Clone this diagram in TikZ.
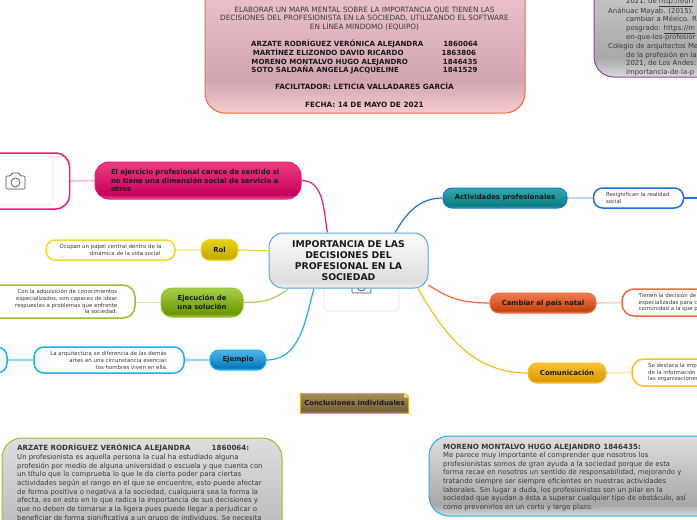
\documentclass[tikz,border=0pt]{standalone}
\usepackage{fontspec}
\setmainfont{DejaVu Sans}
\usetikzlibrary{calc}
\definecolor{InkDark}{HTML}{1A1A1A}
\definecolor{InkGrey}{HTML}{3A3A3A}
\definecolor{PinkEdge}{HTML}{F0187A}
\definecolor{YellowEdge}{HTML}{F0DA28}
\definecolor{GreenEdge}{HTML}{98C030}
\definecolor{SkyEdge}{HTML}{1CB0F0}
\definecolor{BlueEdge}{HTML}{1E6FE0}
\definecolor{CoralEdge}{HTML}{F5683C}
\definecolor{AmberEdge}{HTML}{FFBC20}
\definecolor{PurpleEdge}{HTML}{8E44A8}
\definecolor{CentralEdge}{HTML}{5AA8DC}
\definecolor{gTitleA}{HTML}{F0C6D0}\definecolor{gTitleB}{HTML}{D2A6B0}\definecolor{gTitleC}{HTML}{F6CACC}
\definecolor{gGreyA}{HTML}{DEDEDE}\definecolor{gGreyB}{HTML}{A8A8A8}\definecolor{gGreyC}{HTML}{DADADA}
\definecolor{gPinkA}{HTML}{EE3C80}\definecolor{gPinkB}{HTML}{C8005C}\definecolor{gPinkC}{HTML}{E85090}
\definecolor{gRolA}{HTML}{E8D418}\definecolor{gRolB}{HTML}{C4AC00}\definecolor{gRolC}{HTML}{E8D850}
\definecolor{gGreenA}{HTML}{A6D048}\definecolor{gGreenB}{HTML}{6A9800}\definecolor{gGreenC}{HTML}{A0C850}
\definecolor{gSkyA}{HTML}{4CB8F0}\definecolor{gSkyB}{HTML}{0878B8}\definecolor{gSkyC}{HTML}{50B8E8}
\definecolor{gTealA}{HTML}{30ACAE}\definecolor{gTealB}{HTML}{0A7C7E}\definecolor{gTealC}{HTML}{40A8A8}
\definecolor{gCoralA}{HTML}{F27C50}\definecolor{gCoralB}{HTML}{C44210}\definecolor{gCoralC}{HTML}{EE8058}
\definecolor{gAmberA}{HTML}{F6C436}\definecolor{gAmberB}{HTML}{DA9800}\definecolor{gAmberC}{HTML}{F4C850}
\definecolor{gBrownA}{HTML}{A48E64}\definecolor{gBrownB}{HTML}{766238}\definecolor{gBrownC}{HTML}{A89470}
\definecolor{gWhiteA}{HTML}{FCFCFC}\definecolor{gWhiteB}{HTML}{DEDEDE}\definecolor{gWhiteC}{HTML}{F0F0F0}
% gloss: name, top, dark band, bottom rim, band position
\newcommand{\glossdef}[5]{\pgfdeclareverticalshading{#1}{100bp}{color(0bp)=(#4); color(25bp)=(#4); color(#5bp)=(#3); color(75bp)=(#2); color(100bp)=(#2)}}
\glossdef{glosstitle}{gTitleA}{gTitleB}{gTitleC}{37}
\glossdef{glossgrey}{gGreyA}{gGreyB}{gGreyC}{32}
\glossdef{glosspink}{gPinkA}{gPinkB}{gPinkC}{31}
\glossdef{glossrol}{gRolA}{gRolB}{gRolC}{31}
\glossdef{glossgreen}{gGreenA}{gGreenB}{gGreenC}{31}
\glossdef{glosssky}{gSkyA}{gSkyB}{gSkyC}{31}
\glossdef{glossteal}{gTealA}{gTealB}{gTealC}{31}
\glossdef{glosscoral}{gCoralA}{gCoralB}{gCoralC}{31}
\glossdef{glossamber}{gAmberA}{gAmberB}{gAmberC}{31}
\glossdef{glossbrown}{gBrownA}{gBrownB}{gBrownC}{31}
\glossdef{glosswhite}{gWhiteA}{gWhiteB}{gWhiteC}{31}
\newcommand{\namerow}[1]{{\fontsize{7.1}{8.65}\selectfont\bfseries #1}}
\newcommand{\panelhead}[1]{{\fontsize{7.15}{8.65}\selectfont\bfseries #1}}
\pgfdeclarelayer{behind}
\pgfsetlayers{behind,main}
\tikzset{
  topicbox/.style={rounded corners=9pt, line width=1pt, inner sep=0pt, align=center, text=InkDark, font=\fontsize{6.9}{8.8}\selectfont\bfseries},
  notebox/.style={rounded corners=9pt, line width=1.5pt, fill=white, inner sep=0pt, text=InkGrey, font=\fontsize{5.45}{6.9}\selectfont},
  panelbox/.style={rounded corners=20pt, line width=1pt},
  panelfont/.style={inner sep=0pt, align=left, text=InkGrey, font=\fontsize{6.9}{8.65}\selectfont},
  photobox/.style={rounded corners=4pt, draw=black!10, line width=.7pt, fill=white},
  mainlink/.style={line width=1.2pt},
  sublink/.style={line width=1.6pt},
  cameraicon/.pic={
    \draw[black!70, line width=.7pt, rounded corners=1pt] (-9.5,-5) -- (-5,-5) -- (-3.5,-8) -- (3.5,-8) -- (5,-5) -- (9.5,-5) -- (9.5,8) -- (-9.5,8) -- cycle;
    \draw[black!70, line width=.7pt] (0,1.5) circle (4.5);
  }
}
\begin{document}
\begin{tikzpicture}[x=1pt, y=-1pt]
\useasboundingbox (0,0) rectangle (697,520);

% Title
\node[panelbox, draw=CoralEdge, shading=glosstitle, minimum width=320, minimum height=138] (titlebox) at (365,44) {};
\node[inner sep=0pt, align=center, text=InkDark, font=\fontsize{7.28}{8.65}\selectfont] (titletext) at (364.5,57) {\textcolor{InkGrey}{ELABORAR UN MAPA MENTAL SOBRE LA IMPORTANCIA QUE TIENEN LAS}\\
\textcolor{InkGrey}{DECISIONES DEL PROFESIONISTA EN LA SOCIEDAD, UTILIZANDO EL SOFTWARE}\\
\textcolor{InkGrey}{EN LÍNEA MINDOMO (EQUIPO)}\\[8.5pt]
\namerow{ARZATE RODRÍGUEZ VERÓNICA ALEJANDRA\hspace{20pt}1860064}\\
\namerow{MARTÍNEZ ELIZONDO DAVID RICARDO\hspace{38pt}1863806}\\
\namerow{MORENO MONTALVO HUGO ALEJANDRO\hspace{35pt}1846435}\\
\namerow{SOTO SALDAÑA ANGELA JACQUELINE\hspace{44pt}1841529}\\[8.5pt]
\textbf{FACILITADOR: LETICIA VALLADARES GARCÍA}\\[8.5pt]
\textbf{FECHA: 14 DE MAYO DE 2021}};

% References, top right
\node[panelbox, draw=PurpleEdge, shading=glossgrey, minimum width=200, minimum height=137] (refbox) at (694,8.5) {};
\node[panelfont, anchor=north west] (reftext) at (608,-2.4) {\hspace*{18pt}2021, de \underline{http://eurl}\\
Anáhuac Mayab. (2015).\\
\hspace*{18pt}cambiar a México. R\\
\hspace*{18pt}posgrado: \underline{https://m}\\
\hspace*{18pt}en-que-los-profesior\\
Colegio de arquitectos Me\\
\hspace*{18pt}de la profesión en la\\
\hspace*{18pt}2021, de Los Andes:\\
\hspace*{18pt}importancia-de-la-p};

% Central topic
\node[photobox, minimum width=75, minimum height=60] (centralphoto) at (361.5,281) {};
\pic at (361.5,285) {cameraicon};
\node[rounded corners=14pt, line width=1pt, draw=CentralEdge, shading=glosswhite, minimum width=159, minimum height=55, inner sep=0pt, align=center, text=InkDark, font=\fontsize{9.3}{11}\selectfont\bfseries] (central) at (348.5,260.5) {IMPORTANCIA DE LAS\\DECISIONES DEL\\PROFESIONAL EN LA\\SOCIEDAD};

% Left branches
\node[topicbox, draw=PinkEdge, shading=glosspink, rounded corners=14pt, minimum width=206, minimum height=37, text width=174, align=left] (pinktopic) at (198,180.5) {El ejercicio profesional carece de sentido si\\no tiene una dimensión social de servicio a\\otros};
\node[notebox, draw=PinkEdge, rounded corners=14pt, minimum width=110, minimum height=56] (pinkimage) at (14.5,181) {};
\node[photobox, minimum width=100, minimum height=49] (pinkphoto) at (3,180.5) {};
\pic at (15.5,181) {cameraicon};

\node[topicbox, draw=YellowEdge, shading=glossrol, minimum width=37, minimum height=21] (roltopic) at (219.5,250) {Rol};
\node[notebox, draw=YellowEdge, minimum width=129, minimum height=20, align=right] (rolnote) at (110.5,250) {Ocupan un papel central dentro de la\\dinámica de la vida social\hspace*{1pt}};

\node[topicbox, draw=GreenEdge, shading=glossgreen, rounded corners=11pt, minimum width=82, minimum height=29] (solutiontopic) at (202,302.5) {Ejecución de\\una solución};
\node[notebox, draw=GreenEdge, rounded corners=12pt, minimum width=175, minimum height=33] (solutionnote) at (47.5,301.5) {};
\node[inner sep=0pt, align=right, text=InkGrey, font=\fontsize{5.45}{6.9}\selectfont, anchor=east] (solutiontext) at (117.5,301.5) {Con la adquisición de conocimientos\\especializados, son capaces de idear\\respuestas a problemas que enfrente\hspace*{2pt}\\la sociedad.};

\node[topicbox, draw=SkyEdge, shading=glosssky, minimum width=56, minimum height=20] (exampletopic) at (238,360) {Ejemplo};
\node[notebox, draw=SkyEdge, rounded corners=10pt, minimum width=150, minimum height=26, align=right] (examplenote) at (109,360) {La arquitectura se diferencia de las demás\hspace*{1pt}\\artes en una circunstancia esencial:\hspace*{1pt}\\los hombres viven en ella.};
\node[notebox, draw=SkyEdge, rounded corners=10pt, minimum width=80, minimum height=26] (exampleimage) at (-33,360) {};

% Right branches
\node[topicbox, draw=BlueEdge, shading=glossteal, minimum width=124, minimum height=20] (activitytopic) at (505,198) {Actividades profesionales};
\node[notebox, draw=BlueEdge, minimum width=90, minimum height=20, text width=65, align=left] (activitynote) at (638.5,198) {Resignifican la realidad\\social};
\coordinate (activityend) at (697,198);

\node[topicbox, draw=CoralEdge, shading=glosscoral, minimum width=106, minimum height=20] (returntopic) at (543,303) {Cambiar al país natal};
\node[notebox, draw=CoralEdge, rounded corners=12pt, minimum width=150, minimum height=27] (returnnote) at (697,302.5) {};
\node[inner sep=0pt, align=left, text=InkGrey, font=\fontsize{5.45}{6.6}\selectfont, anchor=west] (returntext) at (638.5,302.5) {Tienen la decisión de\\especializadas para c\\comunidad a la que p};

\node[topicbox, draw=AmberEdge, shading=glossamber, minimum width=78, minimum height=20] (speechtopic) at (567,373) {Comunicación};
\node[notebox, draw=AmberEdge, rounded corners=12pt, minimum width=150, minimum height=27] (speechnote) at (707,372.5) {};
\node[inner sep=0pt, align=left, text=InkGrey, font=\fontsize{5.45}{6.6}\selectfont, anchor=west] (speechtext) at (648,372.5) {Se destaca la imp\\de la información\\las organizaciones};

% Individual conclusions
\node[draw=AmberEdge!90!black, line width=1pt, shading=glossbrown, minimum width=108, minimum height=20, inner sep=0pt, text=InkDark, font=\fontsize{6.9}{9}\selectfont\bfseries] (conclusions) at (354.5,403) {Conclusiones individuales};
\fill[white] ($(conclusions.north east)+(-5,-1)$) -- ($(conclusions.north east)+(1,-1)$) -- ($(conclusions.north east)+(1,5)$) -- cycle;
\fill[AmberEdge!60] ($(conclusions.north east)+(-5,0)$) -- ($(conclusions.north east)+(-5,5)$) -- ($(conclusions.north east)+(0,5)$) -- cycle;

\node[panelbox, draw=GreenEdge, shading=glossgrey, minimum width=280, minimum height=160] (arzatebox) at (142,518) {};
\node[panelfont, anchor=north west] (arzatetext) at (17,444) {\panelhead{ARZATE RODRÍGUEZ VERÓNICA ALEJANDRA\hspace{21pt}1860064:}\\
Un profesionista es aquella persona la cual ha estudiado alguna\\
profesión por medio de alguna universidad o escuela y que cuenta con\\
un título que lo comprueba lo que le da cierto poder para ciertas\\
actividades según el rango en el que se encuentre, esto puede afectar\\
de forma positiva o negativa a la sociedad, cualquiera sea la forma la\\
afecta, es en esto en lo que radica la importancia de sus decisiones y\\
que no deben de tomarse a la ligera pues puede llegar a perjudicar o\\
beneficiar de forma significativa a un grupo de individuos. Se necesita};

\node[panelbox, draw=SkyEdge, shading=glossgrey, minimum width=300, minimum height=80] (morenobox) at (579,476) {};
\node[panelfont, anchor=north west] (morenotext) at (443,443.5) {\panelhead{MORENO MONTALVO HUGO ALEJANDRO 1846435:}\\
Me parece muy importante el comprender que nosotros los\\
profesionistas somos de gran ayuda a la sociedad porque de esta\\
forma recae en nosotros un sentido de responsabilidad, mejorando y\\
tratando siempre ser siempre eficientes en nuestras actividades\\
laborales. Sin lugar a duda, los profesionistas son un pilar en la\\
sociedad que ayudan a ésta a superar cualquier tipo de obstáculo, así\\
como prevenirlos en un corto y largo plazo.};

% Links
\begin{pgfonlayer}{behind}
\draw[mainlink, PinkEdge] (central.127) to[out=100, in=0] (pinktopic.east);
\draw[mainlink, YellowEdge] (central.173) to[out=180, in=0] (roltopic.east);
\draw[mainlink, GreenEdge!80] (central.-155) to[out=-140, in=0] (solutiontopic.east);
\draw[mainlink, SkyEdge] (central.-141) to[out=-105, in=0] (exampletopic.east);
\draw[mainlink, BlueEdge] (central.31) to[out=60, in=180] (activitytopic.west);
\draw[mainlink, CoralEdge] (central.-17) to[out=-35, in=180] (returntopic.west);
\draw[mainlink, AmberEdge] (central.-22) to[out=-60, in=180] (speechtopic.west);

\draw[sublink, PinkEdge!30] (pinktopic.west) -- (pinkimage.east);
\draw[sublink, YellowEdge!40] (roltopic.west) -- (rolnote.east);
\draw[sublink, GreenEdge!40] (solutiontopic.west) -- (solutionnote.east |- solutiontopic.west);
\draw[sublink, SkyEdge!50] (exampletopic.west) -- (examplenote.east);
\draw[sublink, SkyEdge!50] (examplenote.west) -- (exampleimage.east);
\draw[sublink, BlueEdge!30] (activitytopic.east) -- (activitynote.west);
\draw[sublink, BlueEdge] (activitynote.east) -- (activityend);
\draw[sublink, CoralEdge!30] (returntopic.east) -- (returnnote.west);
\draw[sublink, AmberEdge!35] (speechtopic.east) -- (speechnote.west);
\end{pgfonlayer}
\end{tikzpicture}
\end{document}
